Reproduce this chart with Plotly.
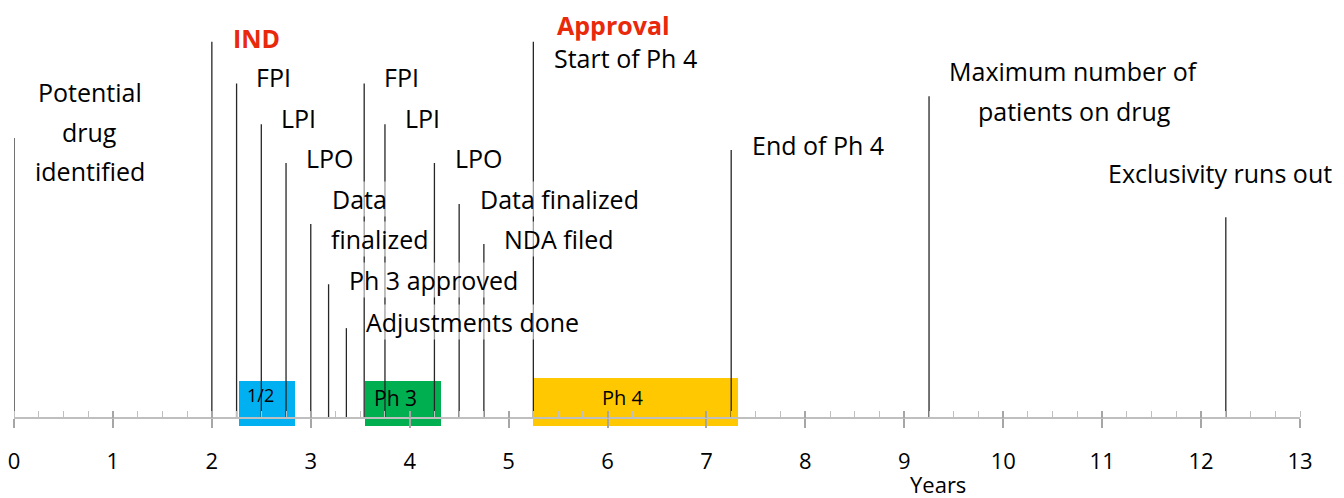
import plotly.graph_objects as go

# ---- data ----
event_x = [0, 2.0, 2.25, 2.5, 2.75, 3.0, 3.18, 3.36, 3.54, 3.75, 4.25, 4.5, 4.75, 5.25, 7.25, 9.25, 12.25]
event_h = [6.70, 9.0, 8.0, 7.03, 6.1, 4.64, 3.2, 2.15, 8.0, 7.03, 6.1, 5.12, 4.16, 9.0, 6.41, 7.7, 4.8]

label_text = ["Potential", "drug", "identified", "IND", "FPI", "LPI", "LPO", "Data", "finalized",
              "Ph 3 approved", "Adjustments done", "FPI", "LPI", "LPO", "Data finalized", "NDA filed",
              "Approval", "Start of Ph 4", "End of Ph 4", "Maximum number of", "patients on drug",
              "Exclusivity runs out"]
label_x = [0.768, 0.768, 0.768, 2.204, 2.437, 2.690, 2.942, 3.205, 3.195,
           3.377, 3.549, 3.731, 3.943, 4.449, 4.702, 4.944,
           5.48, 5.45, 7.452, 9.444, 9.737, 11.05]
label_y = [7.80, 6.84, 5.91, 9.09, 8.16, 7.18, 6.22, 5.24, 4.28,
           3.30, 2.30, 8.16, 7.18, 6.22, 5.24, 4.28,
           9.40, 8.61, 6.53, 8.30, 7.34, 5.86]
highlight = ["IND", "Approval"]

phase_names = ["1/2", "Ph 3", "Ph 4"]
phase_start = [2.275, 3.55, 5.25]
phase_end = [2.84, 4.32, 7.32]
phase_top = [0.885, 0.885, 0.95]
phase_bottom = -0.19
phase_label_x = [2.336, 3.62, 6.15]
phase_label_y = [0.55, 0.48, 0.50]

tick_vals = list(range(0, 14))
tick_text = [str(v) for v in tick_vals]
x_title = "Years"
x_title_pos = (9.34, -1.58)

# ---- layout constants ----
W, H = 1344, 498
OFF = 8              # page offset of the plot div inside the browser window
AXIS_PX = 418        # window pixel row of the time axis
px_per_unit = 41.8
ymax = (AXIS_PX - OFF) / px_per_unit
ymin = (AXIS_PX - (H + OFF)) / px_per_unit
axis_pos = (0 - ymin) / (ymax - ymin)
xdom = [(14 - OFF) / W, (1300 - OFF) / W]
FONT = "Open Sans"

fig = go.Figure()

# event lines
lx, ly = [], []
for x, h in zip(event_x, event_h):
    lx += [x, x, None]
    ly += [0, h, None]
fig.add_trace(go.Scatter(x=lx, y=ly, mode="lines", line=dict(color="#262626", width=1.3),
                         hoverinfo="skip"))

# phase boxes
phase_colors = ["#00B0F0", "#00B050", "#FFC800"]
fig.add_trace(go.Bar(
    x=[(s + e) / 2 for s, e in zip(phase_start, phase_end)],
    width=[e - s for s, e in zip(phase_start, phase_end)],
    y=[t - phase_bottom for t in phase_top],
    base=[phase_bottom] * len(phase_start),
    marker=dict(color=phase_colors, line=dict(width=0)),
    hoverinfo="skip",
))

# dummy trace for overlay axis
fig.add_trace(go.Scatter(x=[0], y=[0], xaxis="x2", mode="markers",
                         marker=dict(opacity=0), hoverinfo="skip"))

# labels
for t, x, y in zip(label_text, label_x, label_y):
    bold = t in highlight
    centered = t in ("Potential", "drug", "identified")
    fig.add_annotation(
        x=x, y=y, text=f"<b>{t}</b>" if bold else t, showarrow=False,
        xanchor="center" if centered else "left", yanchor="middle",
        font=dict(family=FONT, size=25, color="#E8290B" if bold else "#000000"),
        bgcolor=None if centered or bold else "rgba(255,255,255,0.55)",
        borderpad=0,
    )

phase_font_sizes = [18, 21, 20]
for t, x, y, fs, i in zip(phase_names, phase_label_x, phase_label_y, phase_font_sizes, range(3)):
    fig.add_annotation(x=x, y=y, text=t, showarrow=False,
                       xanchor="center" if i == 2 else "left", yanchor="middle",
                       font=dict(family=FONT, size=fs, color="#000000"))

fig.add_annotation(x=x_title_pos[0], y=x_title_pos[1], text=x_title, showarrow=False,
                   xanchor="center", yanchor="middle",
                   font=dict(family=FONT, size=22, color="#000000"))

fig.update_layout(
    template="none",
    width=W, height=H, margin=dict(l=0, r=0, t=0, b=0, pad=0, autoexpand=False),
    plot_bgcolor="white", paper_bgcolor="white", showlegend=False, bargap=0,
    xaxis=dict(
        domain=xdom, range=[0, 13], anchor="free", position=axis_pos, automargin=False,
        showline=True, linecolor="#bfbfbf", linewidth=2,
        tickmode="array", tickvals=tick_vals, ticktext=tick_text,
        ticks="outside", ticklen=9, tickcolor="#a6a6a6", tickwidth=1.5,
        tickfont=dict(family=FONT, size=22, color="#000000"),
        ticklabelstandoff=15, ticklabeloverflow="allow",
        showgrid=False, zeroline=False,
        minor=dict(tickmode="linear", tick0=0, dtick=0.25, ticks="inside", ticklen=6,
                   tickcolor="#bfbfbf", tickwidth=1, showgrid=False),
    ),
    xaxis2=dict(
        domain=xdom, range=[0, 13], overlaying="x", matches="x", anchor="free", position=axis_pos,
        automargin=False,
        tickmode="array", tickvals=tick_vals, ticks="inside", ticklen=7,
        tickcolor="#a6a6a6", tickwidth=1.5, showticklabels=False, showline=False,
        showgrid=False, zeroline=False,
    ),
    yaxis=dict(range=[ymin, ymax], visible=False, domain=[0, 1], automargin=False),
)

fig.write_html("out.html")
